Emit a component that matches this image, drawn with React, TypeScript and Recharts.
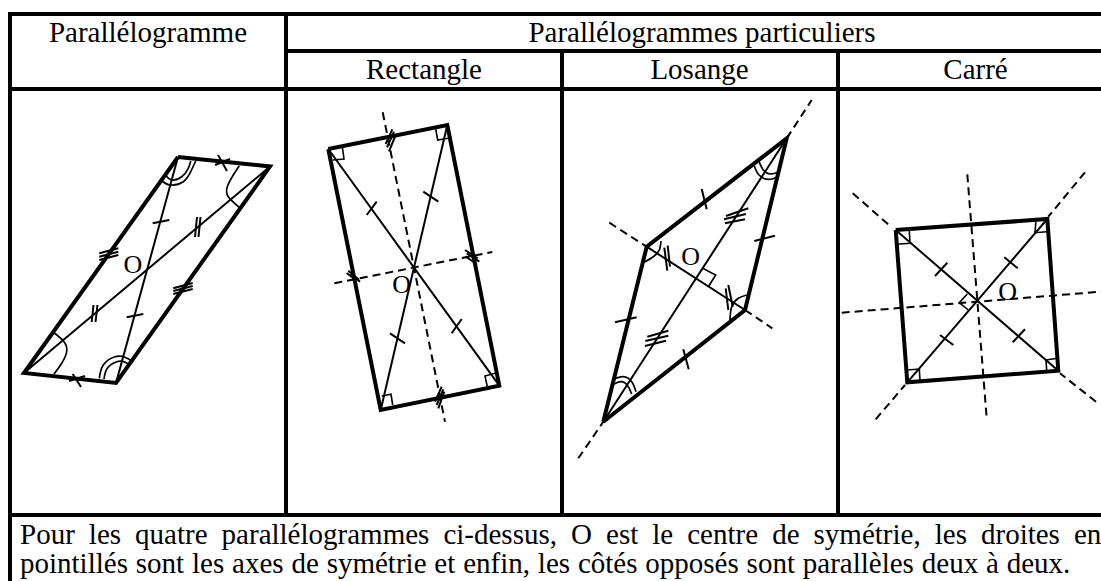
import React from 'react';
import { ComposedChart, Line, XAxis, YAxis, ReferenceDot } from 'recharts';

type Seg = number[]; // x0, y0, x1, y1, ...

const WIDTH = 1101;
const HEIGHT = 581;

// table rules
const frameRules: Seg[] = [
  [8, 14, 1101, 14],
  [10, 14, 10, 581],
  [286, 14, 286, 515],
  [286, 51, 1101, 51],
  [10, 89, 1101, 89],
  [562, 51, 562, 515],
  [838, 51, 838, 515],
  [8, 515, 1101, 515],
];

// outlines of the four figures
const outlines: Seg[] = [
  [178, 157, 270, 166.5, 116, 383, 24, 373, 178, 157],
  [328.3, 149, 447.3, 125, 499.3, 385.7, 380.7, 410, 328.3, 149],
  [603.3, 421.7, 646.7, 246.7, 786.7, 138.3, 745, 310, 603.3, 421.7],
  [895.7, 230, 1047.3, 219, 1058.3, 370.7, 907.3, 382.3, 895.7, 230],
];

const diagonals: Seg[] = [
  [178, 157, 116, 383],
  [270, 166.5, 24, 373],
  [328.3, 149, 499.3, 385.7],
  [447.3, 125, 380.7, 410],
  [603.3, 421.7, 786.7, 138.3],
  [646.7, 246.7, 745, 310],
  [895.7, 230, 1058.3, 370.7],
  [1047.3, 219, 907.3, 382.3],
];

const symmetryAxes: Seg[] = [
  [382.7, 112.3, 445, 421.7],
  [334.3, 283.3, 492.3, 252],
  [578.3, 458.3, 603.3, 421.7],
  [786.7, 138.3, 811.7, 100],
  [609.3, 222.7, 646.7, 246.7],
  [745, 310, 772.3, 328.3],
  [967.3, 174.3, 986.7, 418.3],
  [841.7, 312.7, 1101, 291.7],
  [852.7, 193.3, 891.7, 227.3],
  [1085, 172.3, 1048.3, 216.7],
  [1096, 401.7, 1060, 373.3],
  [875.7, 419.3, 905, 385],
];

const tickMarks: Seg[] = [
  // parallelogram
  [218, 155, 227, 171],
  [215, 165, 230, 159],
  [72.7, 374, 81, 387],
  [69, 381, 85, 376],
  [99.3, 253.3, 118.3, 248.3],
  [99.3, 256.7, 118.3, 251.7],
  [99.3, 260, 118.3, 255],
  [173.3, 288.3, 192.7, 283],
  [173.3, 291, 192.7, 286],
  [173.3, 294, 192.7, 289],
  [197, 217, 195, 237],
  [200.5, 217, 198.5, 237],
  [93.5, 305, 91.7, 322],
  [97.5, 305, 95.5, 322],
  [152.7, 223.3, 169.3, 220],
  [126.7, 317.3, 143.3, 314],
  // rectangle
  [392.3, 129.3, 385.7, 144],
  [394, 131.7, 387, 147.3],
  [395.7, 135, 389, 151.3],
  [441.7, 386.7, 435, 401.7],
  [443.3, 389.3, 436.7, 405],
  [444.3, 391.7, 438.3, 408.3],
  [346.7, 273, 356, 280.3],
  [348.3, 270.7, 359, 279.7],
  [350.7, 274, 360, 281.7],
  [465, 250, 477.7, 258.3],
  [466.7, 253.3, 479.3, 261.7],
  [465.7, 256.7, 476.7, 264],
  [366.7, 215, 376.7, 201.7],
  [423.3, 191.7, 438.3, 201.7],
  [390, 333.3, 405, 343.3],
  [451.7, 333.3, 461.7, 319],
  // rhombus
  [615, 322.3, 636.7, 317.3],
  [701.7, 189, 706.7, 209.3],
  [754.3, 241, 775, 235.7],
  [683.3, 349.3, 688.7, 369.3],
  [726, 216, 748.3, 208.3],
  [724, 219.3, 746, 214],
  [725, 223.3, 745, 219.3],
  [647.3, 336.7, 668.3, 330.7],
  [645.3, 341, 668.3, 335.7],
  [645, 346, 666, 340.7],
  [664.3, 247.7, 667.3, 270.7],
  [667.7, 245.7, 670, 266.7],
  [725.7, 288.3, 728.3, 310],
  [728.3, 285, 732.7, 306.7],
  // square
  [935, 276, 947.3, 262.7],
  [1004.3, 257.3, 1017.7, 268.3],
  [940, 335, 953.3, 345],
  [1012.7, 342.3, 1025, 329.3],
];

const rightAngles: Seg[] = [
  [342.3, 146.7, 344, 159, 332.7, 160],
  [435.7, 129, 437.7, 140, 448.3, 138.3],
  [495, 373.3, 485, 376, 487.3, 386.7],
  [381.7, 396, 391, 394.3, 392.7, 405],
  [702.7, 268.3, 715.7, 275, 708.3, 286.7],
  [909.3, 230.7, 910, 243.3, 896.7, 244.3],
  [1036, 220, 1035, 232.7, 1046.7, 231.7],
  [1057.7, 358.3, 1046, 360, 1046.7, 370.7],
  [907.3, 370, 919.3, 369, 920, 380.7],
  [967.3, 294, 959.3, 302.7, 968.3, 310],
];

const angleArcs: Seg[] = [
  [161, 180, 170, 185, 183.3, 181.7, 190.7, 171.7, 195.7, 161],
  [165.7, 175, 171.7, 180, 181.7, 176.7, 188.3, 168.3, 190.7, 161],
  [99.3, 378.3, 103.3, 365, 115, 356.7, 125, 357.3, 133.3, 361.7],
  [104, 379, 107.3, 368.3, 116.7, 361.7, 124, 361.7, 130, 365],
  [239.3, 165.7, 233.3, 175, 227.3, 186.7, 228.3, 196.7, 239.3, 207.3],
  [54, 374, 61.7, 363.3, 66.7, 351.7, 64, 341.7, 53.3, 332.3],
  [754.3, 166, 759, 175, 768.3, 179.3, 778.3, 176.7],
  [759, 161.7, 763.3, 170, 770, 174, 779.3, 171.7],
  [613.3, 379.3, 623.3, 376.7, 631.7, 381.7, 636, 391.7],
  [612.3, 385, 621.7, 381.7, 628.3, 386.7, 631.7, 394],
  [661, 241, 659.3, 250, 653.3, 256.7, 644, 262.3],
  [730, 320, 731.7, 306.7, 738.3, 298.3, 746.7, 295],
];

const headers = [
  { text: 'Parallélogramme', x: 148, y: 41.5 },
  { text: 'Parallélogrammes particuliers', x: 702, y: 41.5 },
  { text: 'Rectangle', x: 424, y: 79 },
  { text: 'Losange', x: 699.5, y: 79 },
  { text: 'Carré', x: 975.5, y: 79 },
];
const centreLabels = [
  { text: 'O', x: 133, y: 272.7 },
  { text: 'O', x: 401.7, y: 293 },
  { text: 'O', x: 690.7, y: 265 },
  { text: 'O', x: 1007.7, y: 300 },
];
const noteLines = [
  { text: 'Pour les quatre parallélogrammes ci-dessus, O est le centre de symétrie, les droites en', y: 544, spacing: 6.8 },
  { text: 'pointillés sont les axes de symétrie et enfin, les côtés opposés sont parallèles deux à deux.', y: 573, spacing: 0.6 },
];

const FONT = '"Liberation Serif", "Times New Roman", serif';

const toPoints = (s: Seg) => {
  const pts: { x: number; y: number }[] = [];
  for (let i = 0; i < s.length; i += 2) pts.push({ x: s[i], y: s[i + 1] });
  return pts;
};

const renderSegs = (name: string, segs: Seg[], width: number, extra: object = {}) =>
  segs.map((s, i) => (
    <Line
      key={`${name}-${i}`}
      data={toPoints(s)}
      dataKey="y"
      stroke="#000"
      strokeWidth={width}
      dot={false}
      activeDot={false}
      legendType="none"
      isAnimationActive={false}
      {...extra}
    />
  ));

const renderText = (
  key: string,
  text: string,
  x: number,
  y: number,
  anchor: 'middle' | 'start',
  size = 29,
  spacing = 0
) => (
  <ReferenceDot
    key={key}
    x={x}
    y={y}
    r={0}
    ifOverflow="visible"
    shape={(p: any) => (
      <text
        x={p.cx}
        y={p.cy}
        textAnchor={anchor}
        fontFamily={FONT}
        fontSize={size}
        fill="#000"
        wordSpacing={spacing}
      >
        {text}
      </text>
    )}
  />
);

export default function App() {
  return (
    <div style={{ position: 'absolute', left: 0, top: 0, width: WIDTH, height: HEIGHT, overflow: 'hidden', background: '#fff' }}>
      <ComposedChart width={WIDTH} height={HEIGHT} margin={{ top: 0, right: 0, bottom: 0, left: 0 }}>
        <XAxis type="number" dataKey="x" domain={[0, WIDTH]} hide allowDataOverflow />
        <YAxis type="number" domain={[0, HEIGHT]} reversed hide allowDataOverflow />
        {renderSegs('frame', frameRules, 4)}
        {renderSegs('axis', symmetryAxes, 2, { strokeDasharray: '8 5' })}
        {renderSegs('diag', diagonals, 2)}
        {renderSegs('tick', tickMarks, 2)}
        {renderSegs('right', rightAngles, 1.6)}
        {renderSegs('arc', angleArcs, 1.7, { type: 'natural' })}
        {renderSegs('outline', outlines, 4)}
        {headers.map((h, i) => renderText(`h${i}`, h.text, h.x, h.y, 'middle'))}
        {centreLabels.map((c, i) => renderText(`c${i}`, c.text, c.x, c.y, 'middle', 26))}
        {noteLines.map((n, i) => renderText(`n${i}`, n.text, 20, n.y, 'start', 29, n.spacing))}
      </ComposedChart>
    </div>
  );
}
